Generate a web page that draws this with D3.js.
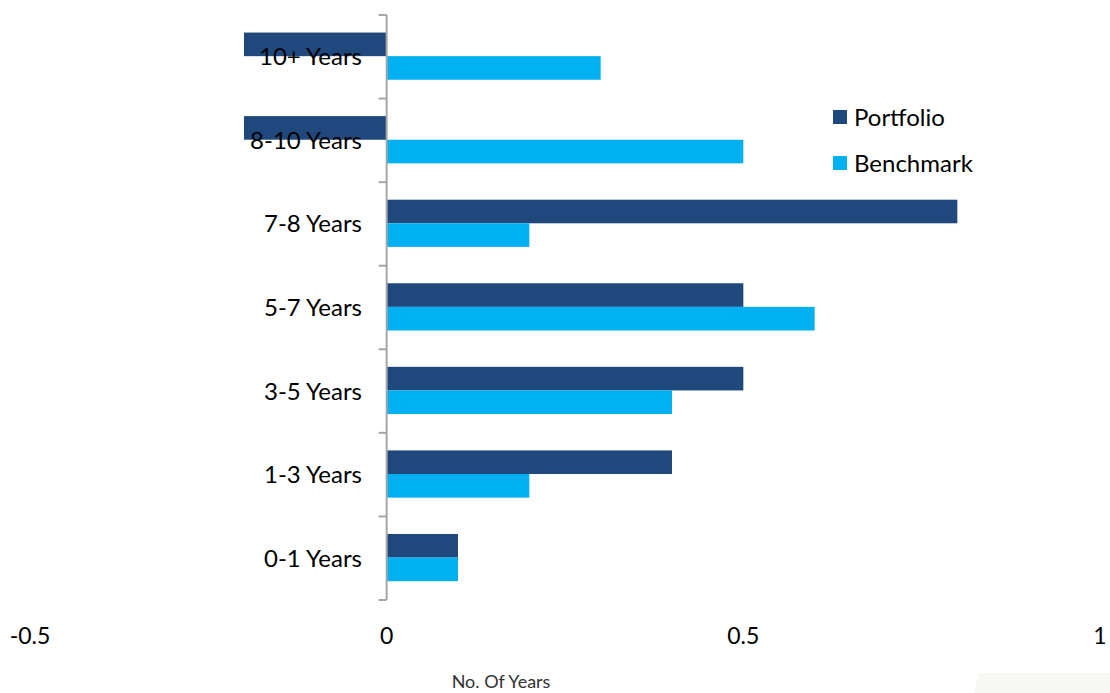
<!DOCTYPE html>
<html>
<head>
<meta charset="utf-8">
<script src="https://cdn.jsdelivr.net/npm/d3@7"></script>
<style>
  html, body { margin: 0; padding: 0; background: #fff; }
  svg { display: block; }
  text { font-family: Lato, "Open Sans", sans-serif; }
</style>
</head>
<body>
<svg id="chart" width="1110" height="693"></svg>
<script>
const categories = ["10+ Years", "8-10 Years", "7-8 Years", "5-7 Years", "3-5 Years", "1-3 Years", "0-1 Years"];
const seriesNames = ["Portfolio", "Benchmark"];
const portfolio = [-0.2, -0.2, 0.8, 0.5, 0.5, 0.4, 0.1];
const benchmark = [0.3, 0.5, 0.2, 0.6, 0.4, 0.2, 0.1];
const xTicks = [-0.5, 0, 0.5, 1];
const xTickLabels = ["-0.5", "0", "0.5", "1"];
const colors = ["#1F497D", "#00B0F0"];
const xTitle = "No. Of Years";

const svg = d3.select("#chart");

const x = d3.scaleLinear().domain([-0.5, 1]).range([30, 1100]);
const y = d3.scaleBand().domain(categories).range([15, 600]).paddingInner(0).paddingOuter(0);
const inner = d3.scaleBand().domain(seriesNames).range([y.bandwidth() * 0.21, y.bandwidth() * 0.775]);

const data = categories.map((c, i) => ({ cat: c, vals: [portfolio[i], benchmark[i]] }));

// faint artifact bottom-right
svg.append("path")
  .attr("d", "M979,673 L1110,673 L1110,693 L974,693 Z")
  .attr("fill", "#f7f7f3");

// bars
const g = svg.append("g");
data.forEach(d => {
  seriesNames.forEach((s, j) => {
    const v = d.vals[j];
    g.append("rect")
      .attr("x", x(Math.min(0, v)))
      .attr("width", Math.abs(x(v) - x(0)))
      .attr("y", y(d.cat) + inner(s))
      .attr("height", inner.bandwidth())
      .attr("fill", colors[j]);
  });
});

// y axis line with ticks at band boundaries
const axisG = svg.append("g");
axisG.append("line")
  .attr("x1", x(0)).attr("x2", x(0))
  .attr("y1", y.range()[0]).attr("y2", y.range()[1])
  .attr("stroke", "#a6a6a6").attr("stroke-width", 2);
const bounds = categories.map(c => y(c)).concat([y.range()[1]]);
axisG.selectAll(".tk").data(bounds).enter().append("line")
  .attr("x1", x(0) - 8).attr("x2", x(0))
  .attr("y1", d => d).attr("y2", d => d)
  .attr("stroke", "#a6a6a6").attr("stroke-width", 2);

// category labels
axisG.selectAll(".cl").data(categories).enter().append("text")
  .attr("x", 362)
  .attr("y", d => y(d) + y.bandwidth() / 2 - 1)
  .attr("text-anchor", "end")
  .attr("dominant-baseline", "central")
  .attr("font-size", 24)
  .attr("fill", "#000")
  .text(d => d);

// x tick labels
svg.selectAll(".xl").data(xTicks).enter().append("text")
  .attr("x", d => x(d))
  .attr("y", 635)
  .attr("text-anchor", "middle")
  .attr("dominant-baseline", "central")
  .attr("font-size", 23)
  .attr("fill", "#000")
  .text((d, i) => xTickLabels[i]);

// x title
svg.append("text")
  .attr("x", 501).attr("y", 681)
  .attr("text-anchor", "middle")
  .attr("dominant-baseline", "central")
  .attr("font-size", 18)
  .attr("fill", "#333")
  .text(xTitle);

// legend
const leg = svg.append("g");
seriesNames.forEach((s, i) => {
  const cy = 117 + i * 46;
  leg.append("rect").attr("x", 833).attr("y", cy - 7).attr("width", 14).attr("height", 14).attr("fill", colors[i]);
  leg.append("text").attr("x", 854).attr("y", cy - 1)
    .attr("dominant-baseline", "central")
    .attr("font-size", 24).attr("fill", "#000").text(s);
});
</script>
</body>
</html>
